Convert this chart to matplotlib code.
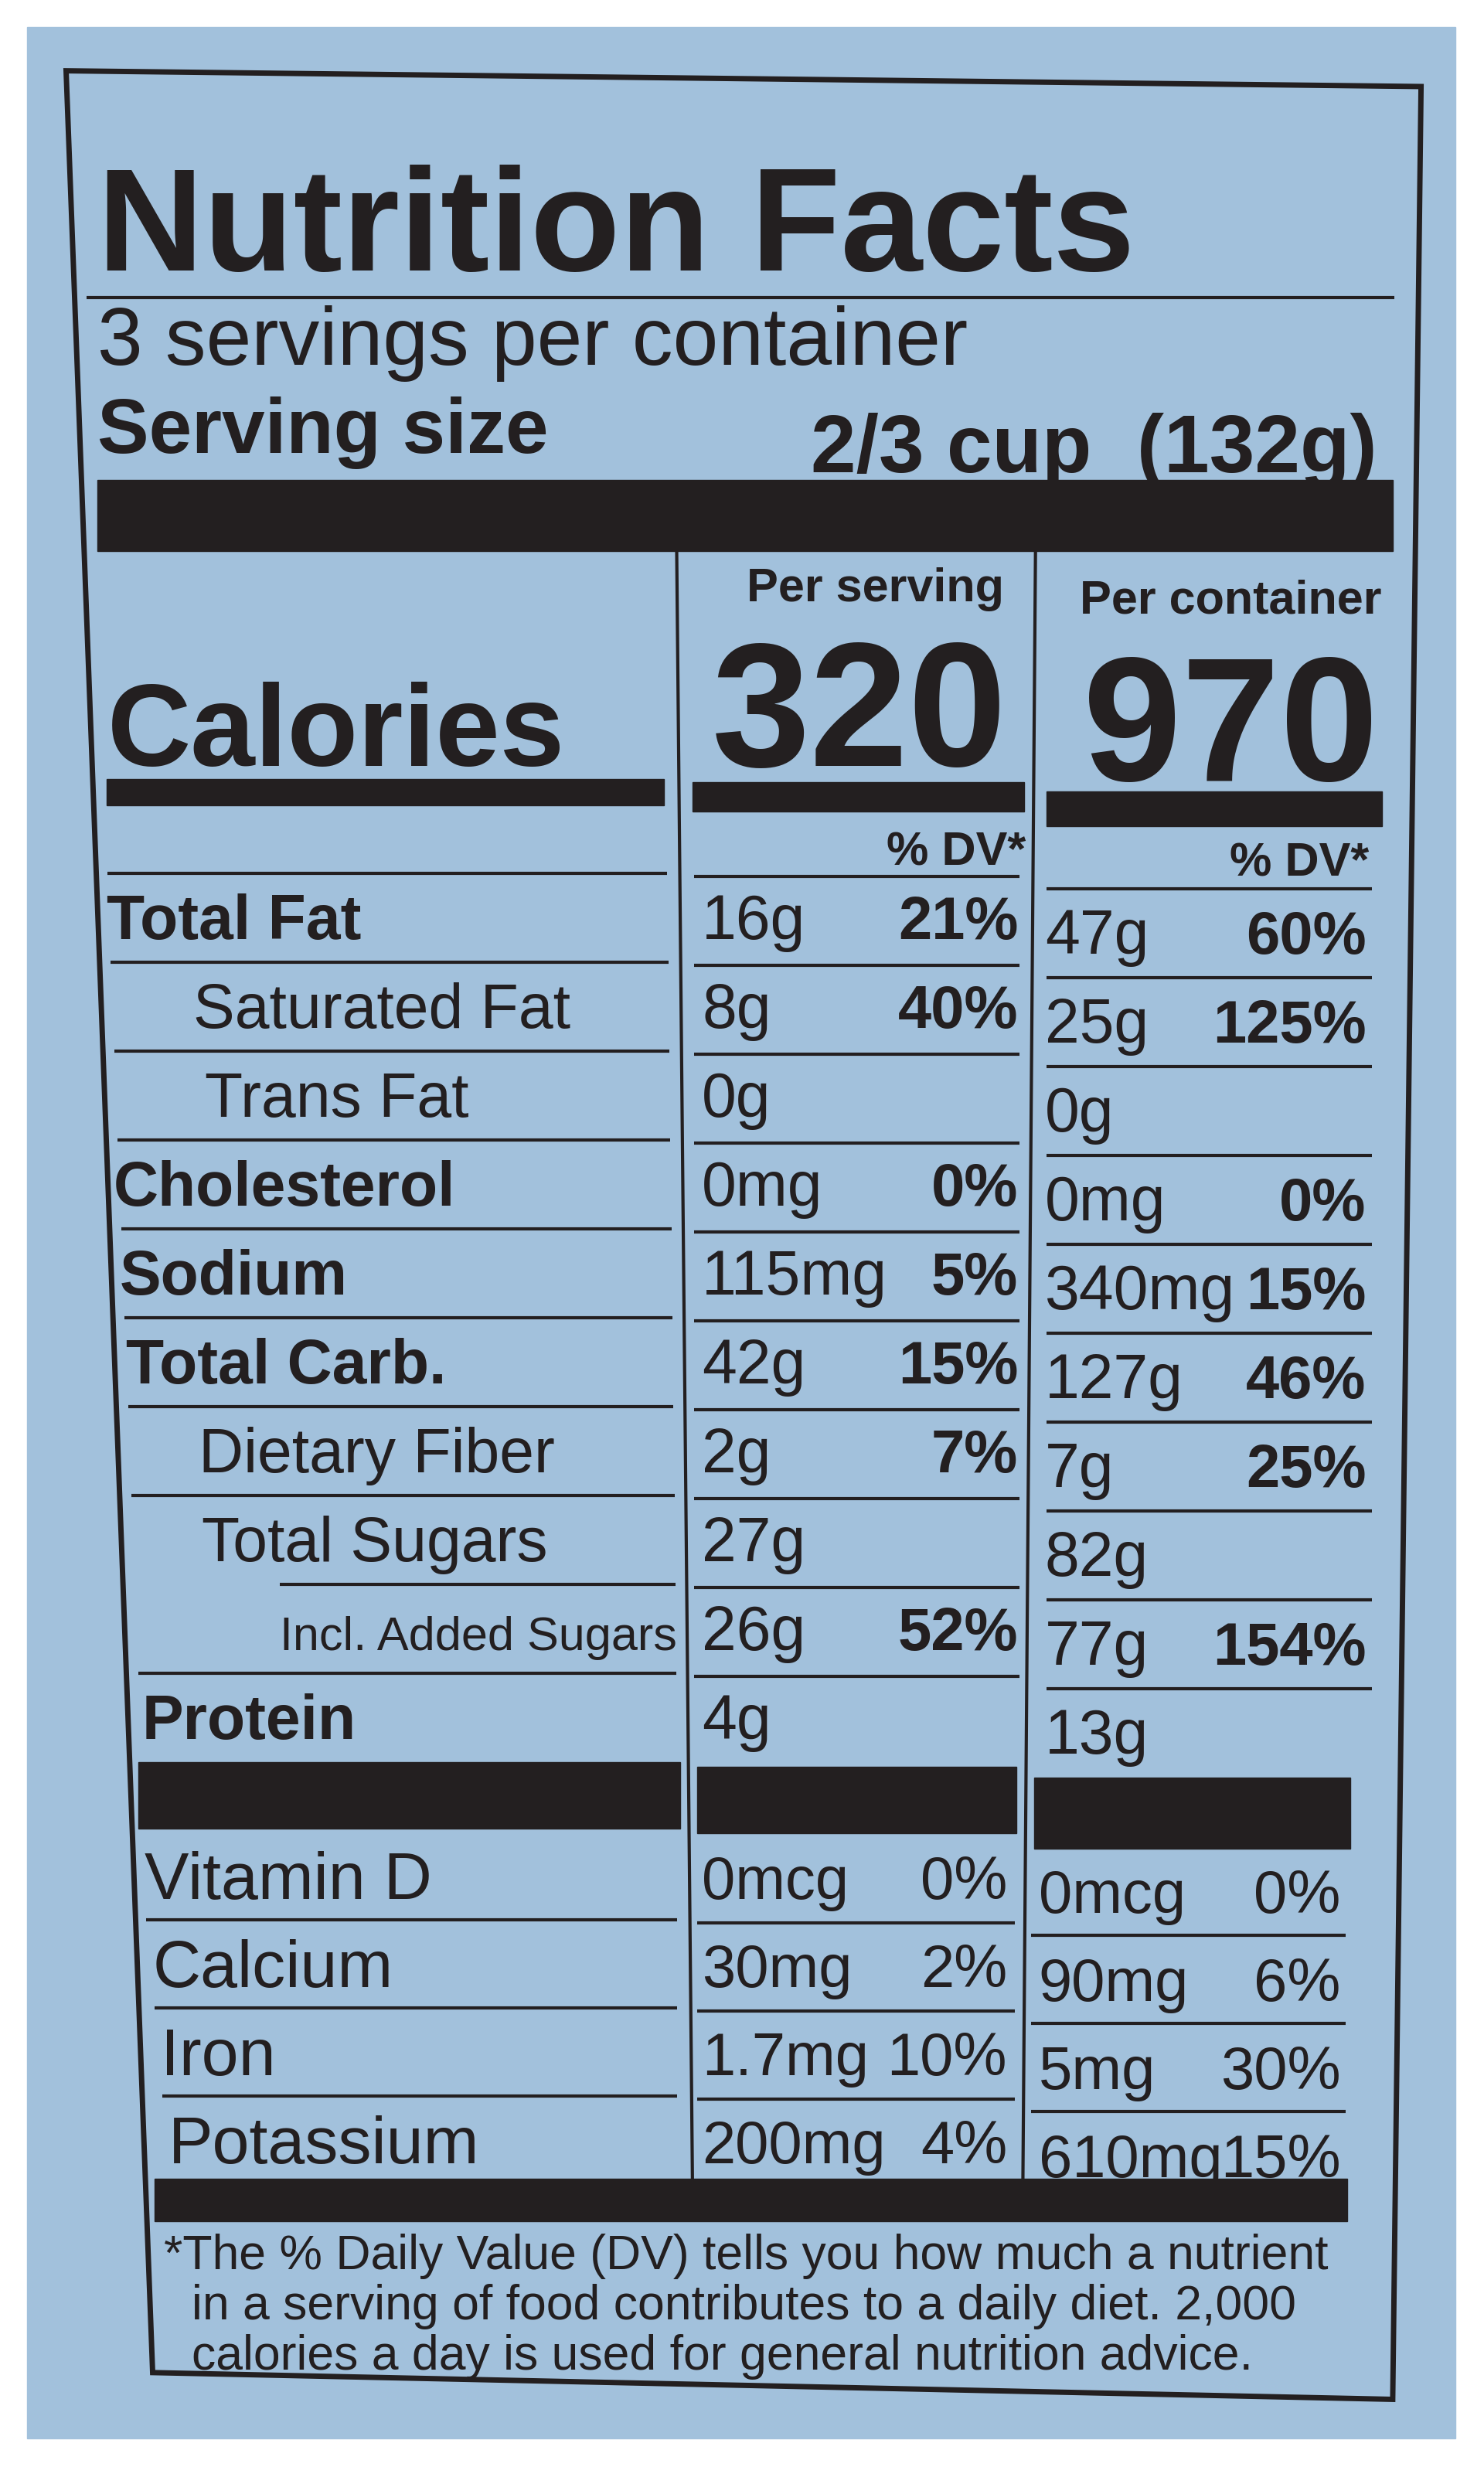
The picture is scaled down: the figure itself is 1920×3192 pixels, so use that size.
import matplotlib
matplotlib.use("Agg")
import matplotlib.pyplot as plt
from matplotlib.patches import Polygon, Rectangle

nutrients = ["Total Fat", "Saturated Fat", "Trans Fat", "Cholesterol", "Sodium",
             "Total Carb.", "Dietary Fiber", "Total Sugars", "Incl. Added Sugars", "Protein"]
bold_rows = [True, False, False, True, True, True, False, False, False, True]
indent = [68, 123, 130, 72, 76, 80, 126, 128, 178, 90]
serv_amt = ["16g", "8g", "0g", "0mg", "115mg", "42g", "2g", "27g", "26g", "4g"]
serv_dv = ["21%", "40%", "", "0%", "5%", "15%", "7%", "", "52%", ""]
cont_amt = ["47g", "25g", "0g", "0mg", "340mg", "127g", "7g", "82g", "77g", "13g"]
cont_dv = ["60%", "125%", "", "0%", "15%", "46%", "25%", "", "154%", ""]

vitamins = ["Vitamin D", "Calcium", "Iron", "Potassium"]
vit_indent = [92, 97, 102, 107]
vit_serv_amt = ["0mcg", "30mg", "1.7mg", "200mg"]
vit_serv_dv = ["0%", "2%", "10%", "4%"]
vit_cont_amt = ["0mcg", "90mg", "5mg", "610mg"]
vit_cont_dv = ["0%", "6%", "30%", "15%"]

cal_serv, cal_cont = "320", "970"

W, H = 943, 1568
fig = plt.figure(figsize=(19.2, 31.92), dpi=100)
ax = fig.add_axes([0, 0, 1, 1])
ax.set_xlim(0, W); ax.set_ylim(H, 0); ax.axis("off")
BLUE = "#a2c1dc"; K = "#231f20"
ax.add_patch(Rectangle((17, 17), 908, 1533, color=BLUE, zorder=0))
ax.add_patch(Polygon([(42, 45), (903, 55), (885, 1525), (97, 1508)], closed=True,
                     fill=False, ec=K, lw=5, zorder=3))

S = ["Liberation Sans", "DejaVu Sans"]

def t(x, y, s, fs, w="normal", ha="left", fam=S, va="baseline"):
    ax.text(x, y, s, fontsize=fs, fontweight=w, ha=ha, va=va, family=fam, color=K, zorder=4)

def hl(x0, x1, y, lw=3):
    ax.plot([x0, x1], [y, y], color=K, lw=lw, solid_capstyle="butt", zorder=3)

def bar(x0, x1, y0, y1):
    ax.add_patch(Rectangle((x0, y0), x1 - x0, y1 - y0, color=K, zorder=3))

t(62, 172, "Nutrition Facts", 137, "bold")
hl(55, 886, 189, 3)
t(62, 232, "3 servings per container", 76)
t(62, 288, "Serving size", 72, "bold")
t(875, 300, "2/3 cup  (132g)", 76, "bold", ha="right")
bar(62, 885, 305, 350)

ax.plot([430, 440], [350, 1385], color=K, lw=3, zorder=3)
ax.plot([658, 650], [350, 1385], color=K, lw=3, zorder=3)
t(638, 382, "Per serving", 44, "bold", ha="right")
t(878, 390, "Per container", 44, "bold", ha="right")
t(68, 487, "Calories", 108, "bold")
t(640, 487, cal_serv, 165, "bold", ha="right")
t(876, 496, cal_cont, 165, "bold", ha="right")
bar(68, 422, 495, 512)
bar(440, 651, 497, 516)
bar(665, 878, 503, 525)
t(652, 550, "% DV*", 44, "bold", ha="right")
t(870, 557, "% DV*", 44, "bold", ha="right")

y0 = 597; dy = 56.5
for i, name in enumerate(nutrients):
    y = y0 + i * dy
    ly = y - 42
    lx = 178 if i == 8 else 68 + (ly - 553) * 20 / 512
    hl(lx, 424 + (ly - 553) * 6 / 512, ly)
    hl(441, 648, y - 40)
    hl(665, 872, y - 32)
    fs = 58 if name != "Incl. Added Sugars" else 44
    t(indent[i], y, name, fs, "bold" if bold_rows[i] else "normal")
    t(446, y, serv_amt[i], 58)
    t(647, y, serv_dv[i], 56, "bold", ha="right")
    t(664, y + 9, cont_amt[i], 58)
    t(868, y + 9, cont_dv[i], 56, "bold", ha="right")

bar(88, 432, 1120, 1162)
bar(443, 646, 1123, 1165)
bar(657, 858, 1130, 1175)

vy0 = 1207; vdy = 56
for i, name in enumerate(vitamins):
    y = vy0 + i * vdy
    if i > 0:
        hl(vit_indent[i] - 4, 430, y - 43)
        hl(443, 645, y - 41)
        hl(655, 855, y - 33)
    t(vit_indent[i], y, name, 62)
    t(446, y, vit_serv_amt[i], 56)
    t(640, y, vit_serv_dv[i], 56, ha="right")
    t(660, y + 9, vit_cont_amt[i], 56)
    t(852, y + 9, vit_cont_dv[i], 56, ha="right")

bar(98, 856, 1385, 1412)
t(104, 1442, "*The % Daily Value (DV) tells you how much a nutrient", 45)
t(122, 1474, "in a serving of food contributes to a daily diet. 2,000", 45)
t(122, 1506, "calories a day is used for general nutrition advice.", 45)

fig.savefig("out.png", dpi=100, facecolor="white")
